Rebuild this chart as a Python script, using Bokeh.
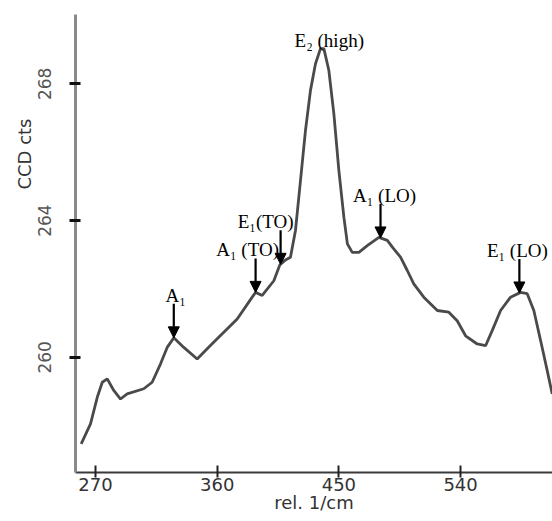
import numpy as np
from bokeh.plotting import figure
from bokeh.models import Label, Arrow, NormalHead, FixedTicker, Range1d, Title
from bokeh.embed import file_html
from bokeh.resources import INLINE

# ---- data ----
wavenumber = [259.4, 266.3, 271.3, 275.0, 278.7, 283.5, 288.5, 293.4, 305.7, 311.9,
              318.1, 323.0, 327.9, 335.3, 345.2, 352.6, 360.0, 374.8, 385.9, 388.4,
              393.3, 401.9, 406.3, 410.5, 414.2, 417.9, 421.6, 425.3, 429.0, 432.7,
              436.4, 438.9, 442.6, 446.3, 450.0, 453.7, 456.3, 459.9, 464.8, 471.0,
              479.6, 485.8, 490.0, 495.6, 500.6, 505.4, 512.8, 522.8, 531.3, 537.5,
              543.7, 552.3, 558.5, 563.4, 569.6, 577.0, 584.4, 589.3, 594.2, 599.2,
              604.1, 607.8]
counts = [257.47, 258.05, 258.83, 259.27, 259.37, 259.03, 258.78, 258.93, 259.08, 259.27,
          259.81, 260.29, 260.57, 260.29, 259.95, 260.25, 260.54, 261.12, 261.76, 261.90,
          261.81, 262.24, 262.70, 262.85, 262.93, 263.71, 265.17, 266.64, 267.81, 268.59,
          269.03, 269.03, 268.39, 267.12, 265.46, 264.10, 263.32, 263.07, 263.07, 263.27,
          263.51, 263.42, 263.20, 262.93, 262.54, 262.15, 261.76, 261.37, 261.32, 261.07,
          260.63, 260.39, 260.34, 260.78, 261.37, 261.76, 261.90, 261.86, 261.37, 260.49,
          259.61, 258.93]

x_ticks = [270, 360, 450, 540]
y_ticks = [260, 264, 268]

peak_x = [327.9, 388.4, 406.9, 437.7, 480.8, 583.5]
peak_labels = ["A\u2081", "A\u2081 (TO)", "E\u2081(TO)", "E\u2082 (high)", "A\u2081 (LO)", "E\u2081 (LO)"]
peak_has_arrow = [True, True, True, False, True, True]

# ---- layout / style ----
X0, X1 = 255.2, 608.0
Y0, Y1 = 256.63, 270.03
FRAME_H = 458
px_per_unit = FRAME_H / (Y1 - Y0)
label_dx = [2, -8, -15, 7, 4, -2]
ARROW_PX = 34

p = figure(width=552, height=521, output_backend="svg", toolbar_location=None,
           x_range=Range1d(X0, X1), y_range=Range1d(Y0, Y1),
           min_border_left=75, min_border_right=0, min_border_top=14, min_border_bottom=49)
p.outline_line_color = None
p.grid.visible = False
p.background_fill_color = "white"
p.border_fill_color = "white"

p.line(wavenumber, counts, line_color="#4a4a4a", line_width=2.8)

# axes
xa = p.xaxis[0]
xa.ticker = FixedTicker(ticks=x_ticks)
xa.axis_line_color = "#3a3a3a"
xa.axis_line_width = 2
xa.major_tick_line_color = "#222222"
xa.major_tick_line_width = 2
xa.major_tick_in = 7
xa.major_tick_out = 5
xa.minor_tick_line_color = None
xa.major_label_text_font = "DejaVu Sans"
xa.major_label_text_font_size = "18px"
xa.major_label_text_color = "#333333"
xa.major_label_standoff = 0
xa.axis_label = "rel. 1/cm"
xa.axis_label_text_font = "DejaVu Sans"
xa.axis_label_text_font_size = "18px"
xa.axis_label_text_font_style = "normal"
xa.axis_label_text_color = "#333333"
xa.axis_label_standoff = -2

ya = p.yaxis[0]
ya.ticker = FixedTicker(ticks=y_ticks)
ya.axis_line_color = "#8a8a8a"
ya.axis_line_width = 3
ya.major_tick_line_color = "#111111"
ya.major_tick_line_width = 3
ya.major_tick_in = 5
ya.major_tick_out = 6
ya.minor_tick_line_color = None
ya.major_label_orientation = "parallel"
ya.major_label_text_font = "DejaVu Sans"
ya.major_label_text_font_size = "17px"
ya.major_label_text_color = "#555555"
ya.major_label_standoff = 18

# y axis title (placed above centre, as in the original)
p.add_layout(Title(text="CCD cts", align="right", offset=104, standoff=2,
                   text_font="DejaVu Sans", text_font_size="18px",
                   text_font_style="normal", text_color="#333333"), "left")

# peak annotations
tip_y = np.interp(peak_x, wavenumber, counts)
for xp, yp, lab, arr, dx in zip(peak_x, tip_y, peak_labels, peak_has_arrow, label_dx):
    if arr:
        tail = yp + ARROW_PX / px_per_unit
        p.add_layout(Arrow(end=NormalHead(size=11, fill_color="black", line_color="black"),
                           x_start=xp, y_start=tail, x_end=xp, y_end=yp,
                           line_color="black", line_width=2.2))
        ly = tail
    else:
        ly = yp
    p.add_layout(Label(x=xp, y=ly, x_offset=dx, y_offset=-2, text=lab,
                       text_align="center", text_baseline="bottom",
                       text_font="Liberation Serif", text_font_size="19px",
                       text_color="black"))

open("out.html", "w").write(file_html(p, INLINE))
